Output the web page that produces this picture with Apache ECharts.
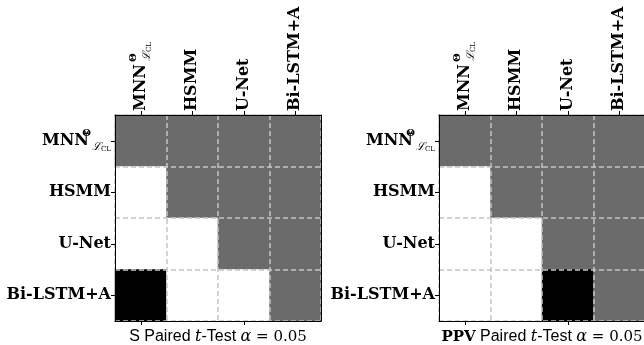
<!DOCTYPE html>
<html>
<head>
<meta charset="utf-8">
<script src="https://cdn.jsdelivr.net/npm/echarts@6/dist/echarts.min.js"></script>
<style>
  html, body { margin: 0; padding: 0; background: #fff; }
  #chart { width: 644px; height: 345px; }
</style>
</head>
<body>
<div id="chart"></div>
<script>
// models compared (rows / cols)
const models = ['MNN', 'HSMM', 'U-Net', 'Bi-LSTM+A'];
// 0 = white, 1 = gray, 2 = black
const sMatrix = [
  [1, 1, 1, 1],
  [0, 1, 1, 1],
  [0, 0, 1, 1],
  [2, 0, 0, 1]
];
const ppvMatrix = [
  [1, 1, 1, 1],
  [0, 1, 1, 1],
  [0, 0, 1, 1],
  [0, 0, 2, 1]
];

const serif = 'DejaVu Serif';
const labelRich = {
  b: { fontFamily: serif, fontWeight: 'bold', fontSize: 16, color: '#000', lineHeight: 24 },
  // zero width so the subscript sits right under the superscript
  sup: { fontFamily: serif, fontWeight: 'bold', fontSize: 10, color: '#000', verticalAlign: 'top', lineHeight: 24, width: 0, padding: [0, 0, 0, 2] },
  sub: { fontFamily: serif, fontStyle: 'italic', fontSize: 11, color: '#000', verticalAlign: 'bottom', lineHeight: 24, padding: [0, 0, 0, 1] },
  subs: { fontFamily: serif, fontSize: 7, color: '#000', verticalAlign: 'bottom', lineHeight: 24 }
};
function fmtModel(v) {
  if (v === 'MNN') return '{b|MNN}{sup|Θ}{sub|ℒ}{subs|CL}';
  return '{b|' + v + '}';
}
const titleRich = {
  s: { fontFamily: 'Liberation Sans', fontSize: 16, color: '#000' },
  bs: { fontFamily: serif, fontWeight: 'bold', fontSize: 15, color: '#000' },
  it: { fontFamily: serif, fontStyle: 'italic', fontSize: 16, color: '#000' },
  m: { fontFamily: serif, fontSize: 15, color: '#000' }
};
const titles = [
  '{s|S Paired }{it|t}{s|-Test }{it|α}{m| = 0.05}',
  '{bs|PPV}{s| Paired }{it|t}{s|-Test }{it|α}{m| = 0.05}'
];
const lefts = [115, 439];
const mats = [sMatrix, ppvMatrix];

const grids = [], xAxes = [], yAxes = [], series = [];
const dash = { show: true, lineStyle: { color: '#c4c4c4', width: 1.5, type: [5, 3] } };
const frame = { show: true, lineStyle: { color: '#000', width: 1 } };
mats.forEach((m, i) => {
  grids.push({ left: lefts[i], top: 115, width: 206, height: 206, outerBoundsMode: 'none', containLabel: false });
  // top axis: labels + dashed grid lines
  xAxes.push({
    type: 'category', data: models, gridIndex: i, position: 'top', z: 5,
    axisLine: frame,
    axisTick: { show: true, alignWithLabel: true, length: 4, lineStyle: { color: '#000' } },
    axisLabel: { rotate: -90, margin: 4, formatter: fmtModel, rich: labelRich },
    splitLine: dash
  });
  // bottom axis: ticks + title
  xAxes.push({
    type: 'category', data: models, gridIndex: i, position: 'bottom', z: 5,
    axisLine: frame,
    axisTick: { show: true, alignWithLabel: true, length: 4, lineStyle: { color: '#000' } },
    axisLabel: { show: false },
    name: titles[i], nameLocation: 'middle', nameGap: 8,
    nameTextStyle: { rich: titleRich }
  });
  yAxes.push({
    type: 'category', data: models, gridIndex: i, inverse: true, position: 'left', z: 5,
    axisLine: frame,
    axisTick: { show: true, alignWithLabel: true, length: 4, lineStyle: { color: '#000' } },
    axisLabel: { margin: 4, formatter: fmtModel, rich: labelRich },
    splitLine: dash
  });
  yAxes.push({
    type: 'category', data: models, gridIndex: i, inverse: true, position: 'right', z: 5,
    axisLine: frame, axisTick: { show: false }, axisLabel: { show: false }
  });
  const data = [];
  m.forEach((row, r) => row.forEach((v, c) => data.push([c, r, v])));
  series.push({
    type: 'heatmap', xAxisIndex: i * 2, yAxisIndex: i * 2, data: data,
    itemStyle: { borderWidth: 0 }, emphasis: { disabled: true }
  });
});

const chart = echarts.init(document.getElementById('chart'));
chart.setOption({
  animation: false,
  backgroundColor: '#fff',
  grid: grids,
  xAxis: xAxes,
  yAxis: yAxes,
  visualMap: {
    type: 'piecewise', show: false, dimension: 2,
    pieces: [
      { value: 0, color: '#ffffff' },
      { value: 1, color: '#6b6b6b' },
      { value: 2, color: '#000000' }
    ]
  },
  series: series
});
</script>
</body>
</html>
